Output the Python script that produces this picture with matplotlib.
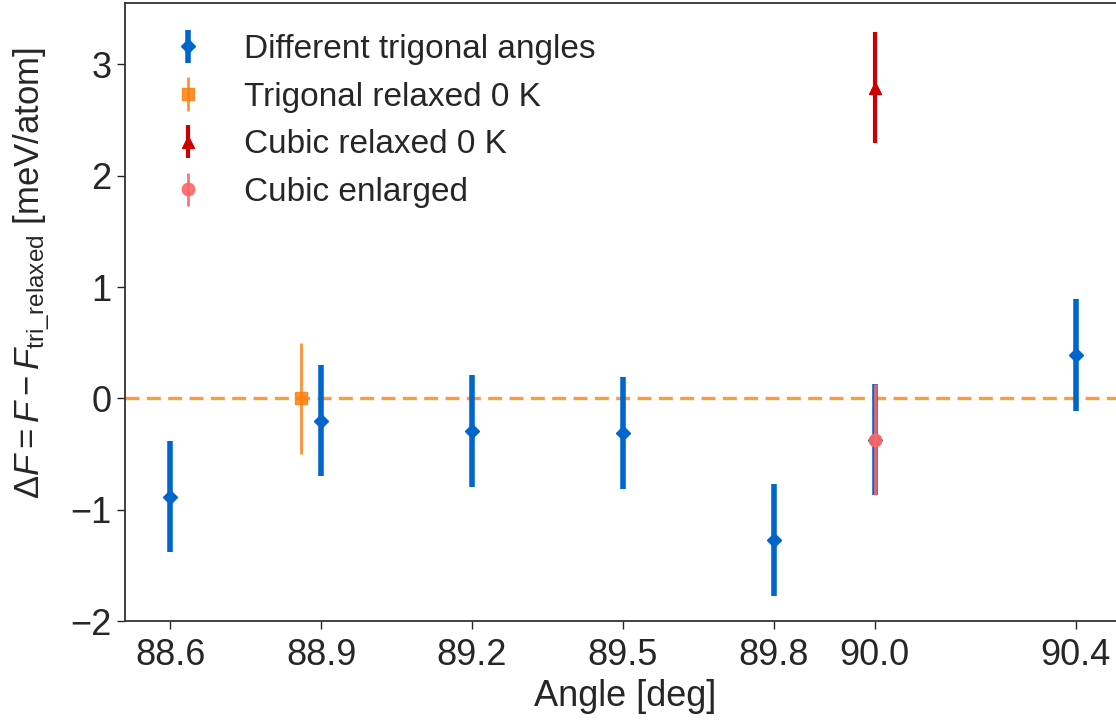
import matplotlib
matplotlib.use("Agg")
import matplotlib.pyplot as plt
import seaborn as sns
import numpy as np

# data
tri_angles = [88.6, 88.9, 89.2, 89.5, 89.8, 90.0, 90.4]
tri_dF = [-0.88, -0.20, -0.29, -0.31, -1.27, -0.37, 0.39]
tri_err = [0.5, 0.5, 0.5, 0.5, 0.5, 0.5, 0.5]

trirel_angle = [88.86]
trirel_dF = [0.0]
trirel_err = [0.5]

cub_angle = [90.0]
cub_dF = [2.79]
cub_err = [0.5]

cubenl_angle = [90.0]
cubenl_dF = [-0.37]
cubenl_err = [0.5]

xticks = [88.6, 88.9, 89.2, 89.5, 89.8, 90.0, 90.4]

sns.set_style("ticks")
plt.rcParams['font.family'] = ['Liberation Sans', 'DejaVu Sans']
plt.rcParams['mathtext.fontset'] = 'custom'
plt.rcParams['mathtext.rm'] = 'Liberation Sans'
plt.rcParams['mathtext.it'] = 'Liberation Sans:italic'
plt.rcParams['text.color'] = '#262626'
plt.rcParams['axes.labelcolor'] = '#262626'
plt.rcParams['xtick.color'] = '#262626'
plt.rcParams['ytick.color'] = '#262626'

fig = plt.figure(figsize=(11.16, 7.2), dpi=100)
# axes runs a little past the right edge, as in the cropped original
ax = fig.add_axes([0.112, 0.137, 0.897, 0.859])

ax.axhline(0, color='#ff9a40', linestyle='--', linewidth=2.4, dashes=(4.2, 2.2), zorder=1)

ax.errorbar(tri_angles, tri_dF, yerr=tri_err, fmt='D', color='#0066cc',
            elinewidth=4, markersize=7, label='Different trigonal angles', zorder=3)
ax.errorbar(trirel_angle, trirel_dF, yerr=trirel_err, fmt='s', color='#ff7f0e',
            elinewidth=2, markersize=8, alpha=0.85, label='Trigonal relaxed 0 K', zorder=3)
ax.errorbar(cub_angle, cub_dF, yerr=cub_err, fmt='^', color='#cc0000',
            elinewidth=3, markersize=8, label='Cubic relaxed 0 K', zorder=3)
ax.errorbar(cubenl_angle, cubenl_dF, yerr=cubenl_err, fmt='o', color='#ff6666',
            elinewidth=2, markersize=9, alpha=0.9, label='Cubic enlarged', zorder=4)

ax.set_xlim(88.51, 90.50)
ax.set_ylim(-2, 3.55)
ax.set_xticks(xticks)
ax.set_xticklabels([f"{t:.1f}" for t in xticks])
ax.tick_params(labelsize=26, length=6, width=1)
ax.tick_params(axis='x', pad=6)

ax.set_xlabel('Angle [deg]', fontsize=26, labelpad=4)
ax.set_ylabel(r'$\Delta F = F - F_{\rm tri\_relaxed}$ [meV/atom]', fontsize=25)
ax.yaxis.set_label_coords(-0.073, 0.563)

for s in ax.spines.values():
    s.set_linewidth(1.3)
    s.set_color('#333333')

ax.legend(loc='upper left', fontsize=24, frameon=False, bbox_to_anchor=(0.006, 0.998),
          handletextpad=0.9, labelspacing=0.5, handlelength=1.6)

fig.savefig('out.png', dpi=100)
